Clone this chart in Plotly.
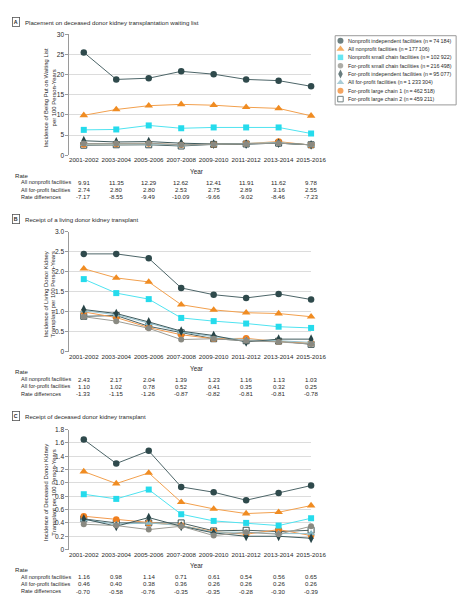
import plotly.graph_objects as go

W, H = 467, 594
FONT = "Liberation Sans, Arial, sans-serif"
TXT = "#2a2a2a"

years = ["2001-2002", "2003-2004", "2005-2006", "2007-2008",
         "2009-2010", "2011-2012", "2013-2014", "2015-2016"]

series_names = [
    "Nonprofit independent facilities (n\u2009=\u200974\u2009184)",
    "All nonprofit facilities (n\u2009=\u2009177\u2009106)",
    "Nonprofit small chain facilities (n\u2009=\u2009102\u2009922)",
    "For-profit small chain facilities (n\u2009=\u2009216\u2009498)",
    "For-profit independent facilities (n\u2009=\u200995\u2009077)",
    "All for-profit facilities (n\u2009=\u20091\u2009233\u2009304)",
    "For-profit large chain 1 (n\u2009=\u2009462\u2009518)",
    "For-profit large chain 2 (n\u2009=\u2009459\u2009211)",
]

# Panel A: waiting list placement
a_np_indep = [25.5, 18.8, 19.1, 20.8, 20.1, 18.8, 18.5, 17.1]
a_np_all = [9.91, 11.35, 12.29, 12.62, 12.41, 11.91, 11.62, 9.78]
a_np_small = [6.3, 6.4, 7.4, 6.7, 6.9, 6.9, 6.9, 5.4]
a_fp_small = [2.9, 2.9, 3.0, 2.6, 2.7, 2.8, 3.0, 2.6]
a_fp_indep = [3.6, 3.3, 3.4, 3.0, 2.8, 2.8, 3.0, 2.6]
a_fp_all = [2.74, 2.80, 2.80, 2.53, 2.75, 2.89, 3.16, 2.55]
a_fp_lc1 = [2.7, 2.8, 2.9, 2.6, 2.7, 2.9, 3.4, 2.5]
a_fp_lc2 = [2.5, 2.6, 2.6, 2.3, 2.7, 2.8, 3.0, 2.6]

# Panel B: living donor transplant
b_np_indep = [2.45, 2.45, 2.34, 1.60, 1.43, 1.35, 1.45, 1.31]
b_np_all = [2.08, 1.85, 1.75, 1.18, 1.05, 0.98, 0.96, 0.88]
b_np_small = [1.82, 1.47, 1.32, 0.85, 0.77, 0.71, 0.63, 0.60]
b_fp_small = [0.88, 0.77, 0.59, 0.31, 0.33, 0.28, 0.25, 0.20]
b_fp_indep = [1.06, 0.96, 0.75, 0.52, 0.41, 0.25, 0.32, 0.32]
b_fp_all = [1.03, 0.93, 0.72, 0.50, 0.38, 0.30, 0.28, 0.24]
b_fp_lc1 = [1.00, 0.86, 0.61, 0.43, 0.33, 0.34, 0.26, 0.22]
b_fp_lc2 = [0.89, 0.91, 0.64, 0.48, 0.33, 0.28, 0.27, 0.19]

# Panel C: deceased donor transplant
c_np_indep = [1.65, 1.29, 1.48, 0.94, 0.86, 0.74, 0.85, 0.96]
c_np_all = [1.17, 0.99, 1.15, 0.71, 0.61, 0.54, 0.56, 0.66]
c_np_small = [0.83, 0.76, 0.90, 0.53, 0.43, 0.40, 0.36, 0.47]
c_fp_small = [0.38, 0.36, 0.30, 0.35, 0.21, 0.26, 0.23, 0.35]
c_fp_indep = [0.46, 0.35, 0.48, 0.35, 0.25, 0.20, 0.20, 0.17]
c_fp_all = [0.45, 0.38, 0.40, 0.36, 0.26, 0.26, 0.24, 0.24]
c_fp_lc1 = [0.50, 0.45, 0.40, 0.36, 0.27, 0.23, 0.30, 0.21]
c_fp_lc2 = [0.46, 0.40, 0.40, 0.40, 0.28, 0.29, 0.27, 0.29]

# Tables
row_labels = ["All nonprofit facilities", "All for-profit facilities", "Rate differences"]
a_table = [
    ["9.91", "11.35", "12.29", "12.62", "12.41", "11.91", "11.62", "9.78"],
    ["2.74", "2.80", "2.80", "2.53", "2.75", "2.89", "3.16", "2.55"],
    ["-7.17", "-8.55", "-9.49", "-10.09", "-9.66", "-9.02", "-8.46", "-7.23"],
]
b_table = [
    ["2.43", "2.17", "2.04", "1.39", "1.23", "1.16", "1.13", "1.03"],
    ["1.10", "1.02", "0.78", "0.52", "0.41", "0.35", "0.32", "0.25"],
    ["-1.33", "-1.15", "-1.26", "-0.87", "-0.82", "-0.81", "-0.81", "-0.78"],
]
c_table = [
    ["1.16", "0.98", "1.14", "0.71", "0.61", "0.54", "0.56", "0.65"],
    ["0.46", "0.40", "0.38", "0.36", "0.26", "0.26", "0.26", "0.26"],
    ["-0.70", "-0.58", "-0.76", "-0.35", "-0.35", "-0.28", "-0.30", "-0.39"],
]

panel_titles = [
    "Placement on deceased donor kidney transplantation waiting list",
    "Receipt of a living donor kidney transplant",
    "Receipt of deceased donor kidney transplant",
]
panel_letters = ["A", "B", "C"]
y_titles = [
    "Incidence of Being Put on Waiting List<br>per 100 Person-Years",
    "Incidence of Living Donor Kidney<br>Transplant per 100 Person-Years",
    "Incidence of Deceased Donor Kidney<br>Transplant per 100 Person-Years",
]
y_ticks = [
    [0, 5, 10, 15, 20, 25, 30],
    [0, 0.5, 1.0, 1.5, 2.0, 2.5, 3.0],
    [0, 0.2, 0.4, 0.6, 0.8, 1.0, 1.2, 1.4, 1.6, 1.8],
]
y_ticktext = [
    ["0", "5", "10", "15", "20", "25", "30"],
    ["0", "0.5", "1.0", "1.5", "2.0", "2.5", "3.0"],
    ["0", "0.2", "0.4", "0.6", "0.8", "1.0", "1.2", "1.4", "1.6", "1.8"],
]
y_max = [30, 3.0, 1.8]

DARK = "#2f4a4c"
styles = [
    dict(color=DARK, line="#4d6568", symbol="circle", size=6.5, fill=DARK),
    dict(color="#f08c22", line="#f2a04e", symbol="triangle-up", size=7.5, fill="#f08c22"),
    dict(color="#25dbec", line="#4fe3f0", symbol="square", size=6, fill="#25dbec"),
    dict(color="#8a8a82", line="#9c9c94", symbol="circle", size=6, fill="#8a8a82"),
    dict(color="#284447", line="#3f5a5c", symbol="diamond-tall", size=7, fill="#284447"),
    dict(color="#86b8c6", line="#96c4d0", symbol="triangle-up", size=7, fill="#86b8c6"),
    dict(color="#f07f1e", line="#f29a4e", symbol="circle", size=6.5, fill="#f07f1e"),
    dict(color="#3a5050", line="#4a6060", symbol="square", size=6, fill="#ffffff"),
]

panels = [
    [a_np_indep, a_np_all, a_np_small, a_fp_small, a_fp_indep, a_fp_all, a_fp_lc1, a_fp_lc2],
    [b_np_indep, b_np_all, b_np_small, b_fp_small, b_fp_indep, b_fp_all, b_fp_lc1, b_fp_lc2],
    [c_np_indep, c_np_all, c_np_small, c_fp_small, c_fp_indep, c_fp_all, c_fp_lc1, c_fp_lc2],
]
tables = [a_table, b_table, c_table]

# geometry in pixels
plot_left, plot_right = 63.5, 313.5
first_x, step_x = 78.3, 33.55
plot_tops = [22.5, 222.5, 422.5]
plot_bottoms = [145.0, 344.0, 544.0]
title_ys = [10.3, 209.5, 409.0]

XTICK_SIZE = 6.2
YTICK_SIZE = 6.6
TABLE_SIZE = 6.1
LABEL_SIZE = 5.5


def px(x):
    return x / W


def py(y):
    return 1 - y / H


x_lo = -(first_x - plot_left) / step_x
x_hi = (plot_right - first_x) / step_x
draw_order = [7, 6, 5, 4, 3, 2, 1, 0]

fig = go.Figure()
annotations = []
shapes = []

for p in range(3):
    xa = "x" if p == 0 else f"x{p + 1}"
    ya = "y" if p == 0 else f"y{p + 1}"
    for i in draw_order:
        s = styles[i]
        fig.add_trace(go.Scatter(
            x=years, y=panels[p][i], mode="lines+markers",
            name=series_names[i], showlegend=False,
            xaxis=xa, yaxis=ya, cliponaxis=False,
            line=dict(color=s["line"], width=1),
            marker=dict(symbol=s["symbol"], size=s["size"], color=s["fill"],
                        line=dict(color=s["color"], width=1 if i == 7 else 0)),
        ))
    xkey = "xaxis" if p == 0 else f"xaxis{p + 1}"
    ykey = "yaxis" if p == 0 else f"yaxis{p + 1}"
    fig.layout[xkey] = dict(
        domain=[px(plot_left), px(plot_right)], anchor=ya,
        type="category", range=[x_lo, x_hi], showgrid=False, zeroline=False,
        showline=False, ticks="", tickangle=0,
        tickfont=dict(size=XTICK_SIZE, color=TXT, family=FONT),
        categoryorder="array", categoryarray=years,
    )
    fig.layout[ykey] = dict(
        domain=[py(plot_bottoms[p]), py(plot_tops[p])], anchor=xa,
        range=[0, y_max[p]], tickvals=y_ticks[p], ticktext=y_ticktext[p],
        showgrid=True, gridcolor="#dcdcdc", gridwidth=0.8, zeroline=False,
        showline=True, linecolor="#9a9a9a", linewidth=1,
        ticks="outside", ticklen=3, tickcolor="#9a9a9a",
        tickfont=dict(size=YTICK_SIZE, color=TXT, family=FONT),
    )
    annotations.append(dict(
        x=px(8.4), y=py(title_ys[p]), xref="paper", yref="paper",
        text="<b>" + panel_letters[p] + "</b>", showarrow=False,
        font=dict(size=5.3, color=TXT, family=FONT),
        bordercolor="#555555", borderwidth=0.8, borderpad=1,
        xanchor="center", yanchor="middle",
    ))
    annotations.append(dict(
        x=px(16), y=py(title_ys[p]), xref="paper", yref="paper",
        text=panel_titles[p], showarrow=False, xanchor="left", yanchor="middle",
        font=dict(size=6.1, color=TXT, family=FONT),
    ))
    annotations.append(dict(
        x=px(43), y=py((plot_tops[p] + plot_bottoms[p]) / 2 + 3), xref="paper", yref="paper",
        text=y_titles[p], showarrow=False, textangle=-90,
        xanchor="center", yanchor="middle",
        font=dict(size=5.9, color=TXT, family=FONT),
    ))
    annotations.append(dict(
        x=px(first_x + 3.5 * step_x), y=py(plot_bottoms[p] + 16.5), xref="paper", yref="paper",
        text="Year", showarrow=False, xanchor="center", yanchor="middle",
        font=dict(size=6.4, color=TXT, family=FONT),
    ))
    rate_y = plot_bottoms[p] + 20
    annotations.append(dict(
        x=px(5), y=py(rate_y), xref="paper", yref="paper", text="Rate",
        showarrow=False, xanchor="left", yanchor="middle",
        font=dict(size=TABLE_SIZE, color=TXT, family=FONT),
    ))
    for r in range(3):
        ry = rate_y + 7.4 * (r + 1)
        annotations.append(dict(
            x=px(11.5), y=py(ry), xref="paper", yref="paper", text=row_labels[r],
            showarrow=False, xanchor="left", yanchor="middle",
            font=dict(size=LABEL_SIZE, color=TXT, family=FONT),
        ))
        for k, yr in enumerate(years):
            annotations.append(dict(
                x=yr, y=py(ry), xref=xa, yref="paper", text=tables[p][r][k],
                showarrow=False, xanchor="center", yanchor="middle",
                font=dict(size=TABLE_SIZE, color=TXT, family=FONT),
            ))

# manual legend
leg_left, leg_top, leg_right, leg_bottom = 338, 24, 463, 94
shapes.append(dict(type="rect", xref="paper", yref="paper",
                   x0=px(leg_left), x1=px(leg_right), y0=py(leg_bottom), y1=py(leg_top),
                   line=dict(color="#9a9a9a", width=1), fillcolor="rgba(0,0,0,0)"))
leg_rows = list(range(8))
fig.add_trace(go.Scatter(
    x=[5.5] * 8, y=[5 + 8.45 * i for i in leg_rows], mode="markers",
    xaxis="x4", yaxis="y4", showlegend=False, hoverinfo="skip", cliponaxis=False,
    marker=dict(symbol=[styles[i]["symbol"] for i in leg_rows],
                size=[styles[i]["size"] - 0.5 for i in leg_rows],
                color=[styles[i]["fill"] for i in leg_rows],
                line=dict(color=[styles[i]["color"] for i in leg_rows],
                          width=[1 if i == 7 else 0 for i in leg_rows])),
))
fig.layout["xaxis4"] = dict(domain=[px(leg_left), px(leg_right)], anchor="y4",
                            range=[0, leg_right - leg_left], visible=False, fixedrange=True)
fig.layout["yaxis4"] = dict(domain=[py(leg_bottom), py(leg_top)], anchor="x4",
                            range=[leg_bottom - leg_top, 0], visible=False, fixedrange=True)
for i in leg_rows:
    annotations.append(dict(
        x=11.0, y=5 + 8.45 * i, xref="x4", yref="y4", text=series_names[i],
        showarrow=False, xanchor="left", yanchor="middle",
        font=dict(size=5.4, color=TXT, family=FONT),
    ))

fig.update_layout(
    width=W, height=H, margin=dict(l=0, r=0, t=0, b=0),
    paper_bgcolor="white", plot_bgcolor="white",
    showlegend=False, annotations=annotations, shapes=shapes,
    font=dict(family=FONT, color=TXT),
)

fig.write_html("out.html")
